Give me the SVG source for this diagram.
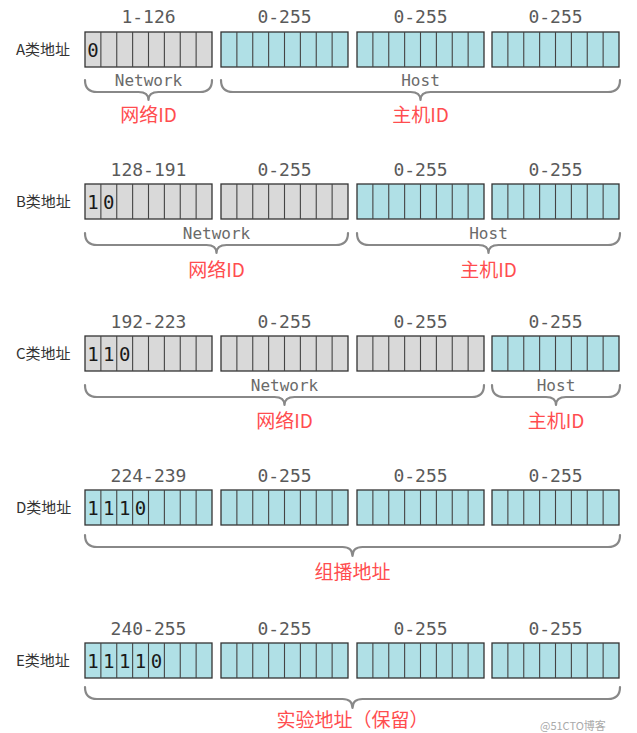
<svg xmlns="http://www.w3.org/2000/svg" xmlns:xlink="http://www.w3.org/1999/xlink" width="637" height="733" viewBox="0 0 637 733">
<style>
.g{fill:#d9d9d9;stroke:#333;stroke-width:1.3}
.t{fill:#b0e0e6;stroke:#333;stroke-width:1.3}
.dv{stroke:#444;stroke-width:1.1;fill:none}
.rl{font-family:"Noto Sans CJK SC","Noto Sans",sans-serif;font-size:15px;fill:#333}
.rg{font-family:"DejaVu Sans Mono",monospace;font-size:18px;fill:#5a5a5a;text-anchor:middle}
.bt{font-family:"DejaVu Sans Mono",monospace;font-size:19px;fill:#1a1a1a;text-anchor:middle}
.nh{font-family:"DejaVu Sans Mono",monospace;font-size:16px;fill:#6a6a6a;text-anchor:middle}
.red{font-family:"Noto Sans CJK SC",sans-serif;font-size:19px;fill:#ff4d4f;text-anchor:middle}
.br{fill:none;stroke:#888;stroke-width:2.2;stroke-linecap:round;stroke-linejoin:round}
.wm{font-family:"Noto Sans CJK SC",sans-serif;font-size:11px;fill:#aaa}
</style>
<defs>
<path id="div" class="dv" d="M15.875,0v35M31.75,0v35M47.625,0v35M63.5,0v35M79.375,0v35M95.25,0v35M111.125,0v35"/>
</defs>
<rect width="637" height="733" fill="#fff"/>

<g id="rowA">
<text class="rl" x="16" y="55">A类地址</text>
<text class="rg" x="148.5" y="23">1-126</text>
<text class="rg" x="284.5" y="23">0-255</text>
<text class="rg" x="420.5" y="23">0-255</text>
<text class="rg" x="555.5" y="23">0-255</text>
<rect class="g" x="85" y="32" width="127" height="35"/><use href="#div" x="85" y="32"/>
<rect class="t" x="221" y="32" width="127" height="35"/><use href="#div" x="221" y="32"/>
<rect class="t" x="357" y="32" width="127" height="35"/><use href="#div" x="357" y="32"/>
<rect class="t" x="492" y="32" width="127" height="35"/><use href="#div" x="492" y="32"/>
<text class="bt" x="92.9" y="57">0</text>
<text class="nh" x="148.5" y="86">Network</text>
<text class="nh" x="420.5" y="86">Host</text>
<text class="red" x="148.5" y="122">网络ID</text>
<text class="red" x="420.5" y="122">主机ID</text>
</g>

<g id="rowB">
<text class="rl" x="16" y="207">B类地址</text>
<text class="rg" x="148.5" y="176">128-191</text>
<text class="rg" x="284.5" y="176">0-255</text>
<text class="rg" x="420.5" y="176">0-255</text>
<text class="rg" x="555.5" y="176">0-255</text>
<rect class="g" x="85" y="184" width="127" height="35"/><use href="#div" x="85" y="184"/>
<rect class="g" x="221" y="184" width="127" height="35"/><use href="#div" x="221" y="184"/>
<rect class="t" x="357" y="184" width="127" height="35"/><use href="#div" x="357" y="184"/>
<rect class="t" x="492" y="184" width="127" height="35"/><use href="#div" x="492" y="184"/>
<text class="bt" x="92.9" y="209">1</text>
<text class="bt" x="108.8" y="209">0</text>
<text class="nh" x="216.5" y="239">Network</text>
<text class="nh" x="488.5" y="239">Host</text>
<text class="red" x="216.5" y="277">网络ID</text>
<text class="red" x="488.5" y="277">主机ID</text>
</g>

<g id="rowC">
<text class="rl" x="16" y="359">C类地址</text>
<text class="rg" x="148.5" y="328">192-223</text>
<text class="rg" x="284.5" y="328">0-255</text>
<text class="rg" x="420.5" y="328">0-255</text>
<text class="rg" x="555.5" y="328">0-255</text>
<rect class="g" x="85" y="336" width="127" height="35"/><use href="#div" x="85" y="336"/>
<rect class="g" x="221" y="336" width="127" height="35"/><use href="#div" x="221" y="336"/>
<rect class="g" x="357" y="336" width="127" height="35"/><use href="#div" x="357" y="336"/>
<rect class="t" x="492" y="336" width="127" height="35"/><use href="#div" x="492" y="336"/>
<text class="bt" x="92.9" y="361">1</text>
<text class="bt" x="108.8" y="361">1</text>
<text class="bt" x="124.7" y="361">0</text>
<text class="nh" x="284.5" y="391">Network</text>
<text class="nh" x="556" y="391">Host</text>
<text class="red" x="284.5" y="428">网络ID</text>
<text class="red" x="556" y="428">主机ID</text>
</g>

<g id="rowD">
<text class="rl" x="16" y="513">D类地址</text>
<text class="rg" x="148.5" y="482">224-239</text>
<text class="rg" x="284.5" y="482">0-255</text>
<text class="rg" x="420.5" y="482">0-255</text>
<text class="rg" x="555.5" y="482">0-255</text>
<rect class="t" x="85" y="490" width="127" height="35"/><use href="#div" x="85" y="490"/>
<rect class="t" x="221" y="490" width="127" height="35"/><use href="#div" x="221" y="490"/>
<rect class="t" x="357" y="490" width="127" height="35"/><use href="#div" x="357" y="490"/>
<rect class="t" x="492" y="490" width="127" height="35"/><use href="#div" x="492" y="490"/>
<text class="bt" x="92.9" y="515">1</text>
<text class="bt" x="108.8" y="515">1</text>
<text class="bt" x="124.7" y="515">1</text>
<text class="bt" x="140.6" y="515">0</text>
<text class="red" x="352.5" y="579">组播地址</text>
</g>

<g id="rowE">
<text class="rl" x="16" y="666">E类地址</text>
<text class="rg" x="148.5" y="635">240-255</text>
<text class="rg" x="284.5" y="635">0-255</text>
<text class="rg" x="420.5" y="635">0-255</text>
<text class="rg" x="555.5" y="635">0-255</text>
<rect class="t" x="85" y="643" width="127" height="35"/><use href="#div" x="85" y="643"/>
<rect class="t" x="221" y="643" width="127" height="35"/><use href="#div" x="221" y="643"/>
<rect class="t" x="357" y="643" width="127" height="35"/><use href="#div" x="357" y="643"/>
<rect class="t" x="492" y="643" width="127" height="35"/><use href="#div" x="492" y="643"/>
<text class="bt" x="92.9" y="668">1</text>
<text class="bt" x="108.8" y="668">1</text>
<text class="bt" x="124.7" y="668">1</text>
<text class="bt" x="140.6" y="668">1</text>
<text class="bt" x="156.4" y="668">0</text>
<text class="red" x="352.5" y="727">实验地址（保留）</text>
</g>

<g id="brackets">
<path class="br" d="M85,80 Q85,92 97,92 L138.5,92 Q148.5,92 148.5,100 Q148.5,92 158.5,92 L200,92 Q212,92 212,80"/>
<path class="br" d="M221,80 Q221,92 233,92 L410.5,92 Q420.5,92 420.5,100 Q420.5,92 430.5,92 L608,92 Q620,92 620,80"/>
<path class="br" d="M85,233 Q85,245 97,245 L206.5,245 Q216.5,245 216.5,253 Q216.5,245 226.5,245 L336,245 Q348,245 348,233"/>
<path class="br" d="M357,233 Q357,245 369,245 L478.5,245 Q488.5,245 488.5,253 Q488.5,245 498.5,245 L608,245 Q620,245 620,233"/>
<path class="br" d="M85,385 Q85,397 97,397 L274.5,397 Q284.5,397 284.5,405 Q284.5,397 294.5,397 L472,397 Q484,397 484,385"/>
<path class="br" d="M492,385 Q492,397 504,397 L546,397 Q556,397 556,405 Q556,397 566,397 L608,397 Q620,397 620,385"/>
<path class="br" d="M85,535 Q85,547 97,547 L342.5,547 Q352.5,547 352.5,556 Q352.5,547 362.5,547 L608,547 Q620,547 620,535"/>
<path class="br" d="M85,687 Q85,699 97,699 L342.5,699 Q352.5,699 352.5,708 Q352.5,699 362.5,699 L608,699 Q620,699 620,687"/>
</g>

<text class="wm" x="540" y="730">@51CTO博客</text>
</svg>
